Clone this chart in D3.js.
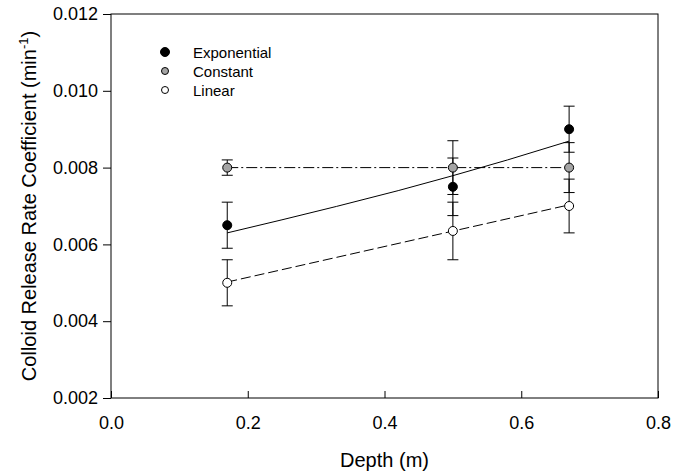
<!DOCTYPE html>
<html><head><meta charset="utf-8">
<script src="https://cdn.jsdelivr.net/npm/d3@7"></script>
<style>body{margin:0;background:#fff}svg{display:block}text{font-family:Arial,"Liberation Sans",sans-serif;fill:#000}</style>
</head><body><svg id="c" width="687" height="472"></svg>
<script>
// Data
const depth = [0.17, 0.5, 0.67];
const expVals = [0.0065, 0.0075, 0.0090];
const expErr = [0.0006, 0.00075, 0.0006];
const constVals = [0.0080, 0.0080, 0.0080];
const constErr = [0.0002, 0.0007, 0.00065];
const linVals = [0.0050, 0.00635, 0.0070];
const linErr = [0.0006, 0.00075, 0.0007];
// fitted curves
const expFitX = [0.17, 0.25, 0.33, 0.42, 0.5, 0.58, 0.67];
const expFitY = [0.0063, 0.00664, 0.00699, 0.00740, 0.00779, 0.00820, 0.00869];
const constFitX = [0.17, 0.67];
const constFitY = [0.0080, 0.0080];
const linFitX = [0.17, 0.67];
const linFitY = [0.00502, 0.00703];
const xTicks = [0.0, 0.2, 0.4, 0.6, 0.8];
const yTicks = [0.002, 0.004, 0.006, 0.008, 0.010, 0.012];
const legendNames = ["Exponential", "Constant", "Linear"];

const svg = d3.select("#c");
const L = 111, R = 658, T = 14, B = 398;
const x = d3.scaleLinear().domain([0, 0.8]).range([L, R]);
const y = d3.scaleLinear().domain([0.002, 0.012]).range([B, T]);

// frame
svg.append("rect").attr("x", L).attr("y", T).attr("width", R - L).attr("height", B - T)
  .attr("fill", "none").attr("stroke", "#000").attr("stroke-width", 1);

const xa = svg.append("g").attr("transform", `translate(0,${B})`)
  .call(d3.axisBottom(x).tickValues(xTicks).tickFormat(d3.format(".1f")).tickSize(-7).tickPadding(18));
const ya = svg.append("g").attr("transform", `translate(${L},0)`)
  .call(d3.axisLeft(y).tickValues(yTicks).tickFormat(d3.format(".3f")).tickSize(8).tickPadding(5));
[xa, ya].forEach(a => {
  a.select(".domain").remove();
  a.selectAll("text").style("font-size", "18px").attr("font-family", "Arial, 'Liberation Sans', sans-serif");
  a.selectAll("line").attr("stroke", "#000");
});

// axis titles
svg.append("text").attr("x", (L + R) / 2).attr("y", 467).attr("text-anchor", "middle")
  .style("font-size", "20px").text("Depth (m)");
const yt = svg.append("text").attr("transform", `translate(36,${(T + B) / 2}) rotate(-90)`)
  .attr("text-anchor", "middle").style("font-size", "20px");
yt.append("tspan").text("Colloid Release Rate Coefficient (min");
yt.append("tspan").attr("dy", -8).style("font-size", "13px").text("-1");
yt.append("tspan").attr("dy", 8).text(")");

const line = d3.line().x(d => x(d[0])).y(d => y(d[1]));
const fits = [
  {xs: constFitX, ys: constFitY, dash: "11,3,2,3"},
  {xs: linFitX, ys: linFitY, dash: "10,4"},
  {xs: expFitX, ys: expFitY, dash: null},
];
fits.forEach(f => {
  svg.append("path").datum(f.xs.map((v, i) => [v, f.ys[i]])).attr("d", line)
    .attr("fill", "none").attr("stroke", "#000").attr("stroke-width", 1)
    .attr("stroke-dasharray", f.dash);
});

const series = [
  {vals: expVals, err: expErr, fill: "#000"},
  {vals: constVals, err: constErr, fill: "#a4a4a4"},
  {vals: linVals, err: linErr, fill: "#fff"},
];
const cw = 5.5;
series.forEach(s => {
  const g = svg.append("g");
  depth.forEach((d, i) => {
    const cx = x(d), y1 = y(s.vals[i] + s.err[i]), y2 = y(s.vals[i] - s.err[i]);
    g.append("line").attr("x1", cx).attr("x2", cx).attr("y1", y1).attr("y2", y2).attr("stroke", "#000");
    g.append("line").attr("x1", cx - cw).attr("x2", cx + cw).attr("y1", y1).attr("y2", y1).attr("stroke", "#000");
    g.append("line").attr("x1", cx - cw).attr("x2", cx + cw).attr("y1", y2).attr("y2", y2).attr("stroke", "#000");
  });
});
series.forEach(s => {
  svg.append("g").selectAll("circle").data(depth).join("circle")
    .attr("cx", d => x(d)).attr("cy", (d, i) => y(s.vals[i])).attr("r", 4.5)
    .attr("fill", s.fill).attr("stroke", "#000").attr("stroke-width", 1);
});

// legend
const lg = svg.append("g");
legendNames.forEach((n, i) => {
  const yy = 52 + i * 19;
  lg.append("circle").attr("cx", 165).attr("cy", yy).attr("r", i === 0 ? 4.5 : 3.5)
    .attr("fill", series[i].fill).attr("stroke", "#000").attr("stroke-width", 1);
  lg.append("text").attr("x", 193).attr("y", yy + 6).style("font-size", "15px").text(n);
});
</script></body></html>
